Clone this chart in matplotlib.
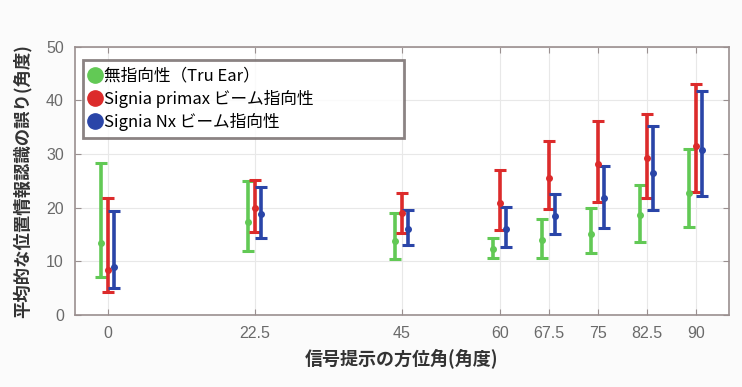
import numpy as np
import matplotlib.pyplot as plt

plt.rcParams['font.family'] = ['Noto Sans CJK JP', 'DejaVu Sans']

# 方位角 (度)
angles = [0, 22.5, 45, 60, 67.5, 75, 82.5, 90]
tick_labels = ['0', '22.5', '45', '60', '67.5', '75', '82.5', '90']

# 平均値と誤差範囲 (下端・上端)
tru_mean = [13.4, 17.3, 13.8, 12.4, 14.0, 15.1, 18.7, 22.8]
tru_low = [7.0, 11.9, 10.4, 10.6, 10.6, 11.5, 13.7, 16.5]
tru_high = [28.4, 25.0, 19.0, 14.3, 17.9, 19.9, 24.3, 31.0]

primax_mean = [8.3, 19.9, 19.0, 20.8, 25.5, 28.1, 29.2, 31.5]
primax_low = [4.2, 15.4, 15.2, 15.9, 19.7, 21.1, 21.9, 22.9]
primax_high = [21.8, 25.2, 22.7, 27.1, 32.5, 36.2, 37.4, 43.0]

nx_mean = [8.9, 18.8, 16.0, 16.0, 18.5, 21.8, 26.4, 30.7]
nx_low = [5.1, 14.3, 13.1, 12.6, 15.1, 16.2, 19.6, 22.1]
nx_high = [19.4, 23.8, 19.6, 20.2, 22.5, 27.8, 35.3, 41.8]

series = [
    ('無指向性（Tru Ear）', tru_mean, tru_low, tru_high, '#62c955', -1.0),
    ('Signia primax ビーム指向性', primax_mean, primax_low, primax_high, '#dc2b2b', 0.0),
    ('Signia Nx ビーム指向性', nx_mean, nx_low, nx_high, '#2a45a8', 1.0),
]

fig = plt.figure(figsize=(7.42, 3.87), dpi=100)
fig.patch.set_facecolor('#fbfbfb')
ax = fig.add_axes([0.101, 0.186, 0.881, 0.693])

x = np.array(angles)
handles = []
for label, m, lo, hi, color, off in series:
    m = np.array(m)
    err = [m - np.array(lo), np.array(hi) - m]
    ax.errorbar(x + off, m, yerr=err, fmt='o', color=color, ms=4,
                elinewidth=2.6, capsize=4, capthick=2.2, zorder=3)
    h, = ax.plot([], [], 'o', color=color, ms=11, label=label)
    handles.append(h)

ax.set_xlim(-5, 95)
ax.set_ylim(0, 50)
ax.set_xticks(angles)
ax.set_xticklabels(tick_labels)
ax.set_yticks(range(0, 51, 10))
ax.grid(True, color='#e8e8e8', lw=0.8)
ax.set_axisbelow(True)
ax.tick_params(direction='in', top=True, right=True, length=4,
               color='#9a9090', labelcolor='#6a6a6a', labelsize=11.5, pad=8)
for t in ax.get_xticklabels() + ax.get_yticklabels():
    t.set_family('Liberation Sans')
for s in ax.spines.values():
    s.set_color('#9a8f8f')
    s.set_linewidth(1.2)

ax.set_xlabel('信号提示の方位角(角度)', fontsize=13, fontweight='bold',
              color='#333333', labelpad=5)
ax.set_ylabel('平均的な位置情報認識の誤り(角度)', fontsize=12.5, fontweight='bold',
              color='#333333', labelpad=10)

leg = ax.legend(handles=handles, loc='upper left',
                bbox_to_anchor=(0.012, 0.664, 0.492, 0.287), mode='expand',
                fontsize=12, frameon=True, fancybox=False, handlelength=0.6,
                handletextpad=0.2, borderpad=0.45, labelspacing=0.3,
                borderaxespad=0.0)
leg.get_frame().set_edgecolor('#6e6464')
leg.get_frame().set_linewidth(2)

fig.savefig('out.png', dpi=100, facecolor=fig.get_facecolor())
